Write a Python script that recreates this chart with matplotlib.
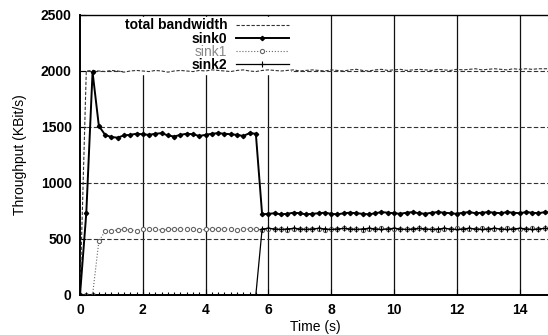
#!/usr/bin/env python3

import numpy as np
import matplotlib
import matplotlib.pyplot as plt

matplotlib.use("Agg")

plt.rcParams['font.family'] = ['Liberation Sans', 'DejaVu Sans']

# sample times (s), one sample every 0.2 s
time = np.round(np.arange(0, 15.01, 0.2), 1)

total_bw = [0, 2000, 2005, 2000, 1995, 2005, 2000, 1990, 2000, 2005,
            2000, 1995, 2005, 2000, 1990, 2000, 2005, 2000, 1995, 2005,
            2000, 2010, 2005, 2000, 1995, 2005, 2010, 2000, 1995, 2005,
            2010, 2005, 2000, 2005, 2010, 2000, 2005, 2010, 2005, 2000,
            2010, 2005, 2000, 2010, 2015, 2005, 2000, 2010, 2015, 2005,
            2010, 2015, 2005, 2010, 2015, 2010, 2005, 2015, 2010, 2005,
            2015, 2010, 2015, 2020, 2010, 2015, 2020, 2015, 2010, 2020,
            2015, 2020, 2015, 2020, 2020, 2020]

sink0 = [0, 730, 1990, 1510, 1430, 1410, 1405, 1425, 1430, 1440,
         1435, 1430, 1440, 1445, 1425, 1415, 1430, 1440, 1435, 1420,
         1430, 1440, 1445, 1440, 1435, 1430, 1420, 1445, 1440, 720,
         725, 730, 720, 725, 735, 730, 720, 725, 730, 735,
         725, 720, 730, 735, 730, 725, 720, 730, 740, 735,
         730, 725, 735, 740, 730, 725, 735, 740, 735, 730,
         725, 735, 740, 730, 735, 740, 735, 730, 740, 735,
         730, 740, 735, 730, 740, 735]

sink1 = [0, 0, 0, 480, 570, 575, 580, 585, 580, 575,
         585, 590, 585, 580, 585, 590, 585, 590, 585, 580,
         585, 590, 585, 590, 585, 580, 585, 590, 585, 580,
         585, 590, 585, 580, 585, 590, 585, 590, 585, 580,
         585, 590, 595, 590, 585, 580, 585, 590, 595, 590,
         585, 590, 585, 590, 595, 590, 585, 580, 585, 590,
         595, 590, 585, 590, 595, 590, 585, 590, 595, 590,
         585, 590, 595, 590, 595, 590]

sink2 = [0, 0, 0, 0, 0, 0, 0, 0, 0, 0,
         0, 0, 0, 0, 0, 0, 0, 0, 0, 0,
         0, 0, 0, 0, 0, 0, 0, 0, 0, 590,
         595, 590, 585, 590, 595, 590, 585, 590, 595, 590,
         585, 590, 595, 590, 585, 590, 595, 590, 585, 590,
         595, 590, 585, 590, 595, 590, 585, 590, 595, 590,
         585, 590, 595, 590, 585, 590, 595, 590, 585, 590,
         595, 590, 585, 590, 595, 590]

W, H = 548, 335
fig = plt.figure(figsize=(W / 100, H / 100), dpi=100)
ax = fig.add_axes([80 / W, 40 / H, 471 / W, 280 / H])

ax.plot(time, total_bw, color='#333333', lw=0.8, ls=(0, (3, 1.5)),
        label='total bandwidth', zorder=3)
ax.plot(time, sink0, color='black', lw=1.4, marker='D', ms=2.2,
        label='sink0', zorder=5)
ax.plot(time, sink1, color='#666666', lw=0.8, ls=':', marker='o', ms=3,
        mfc='white', mew=0.8, label='sink1', zorder=4)
ax.plot(time, sink2, color='black', lw=0.9, marker='+', ms=4, mew=0.8,
        label='sink2', zorder=4)

ax.set_xlim(0, 15)
ax.set_ylim(0, 2500)
ax.set_xticks(range(0, 15, 2))
ax.set_yticks(range(0, 2501, 500))

# vertical grid solid, horizontal grid dashed (gnuplot look)
for x in range(2, 15, 2):
    ax.axvline(x, color='#111111', lw=0.9, zorder=1)
for y in range(500, 2500, 500):
    ax.axhline(y, color='#333333', lw=0.8, ls=(0, (4, 2)), zorder=1)

ax.tick_params(direction='in', length=4, labelsize=10, pad=6)
for lab in ax.get_xticklabels() + ax.get_yticklabels():
    lab.set_fontweight('bold')
for s in ['left', 'bottom']:
    ax.spines[s].set_linewidth(1.4)
ax.spines['top'].set_linewidth(1.0)

ax.set_xlabel('Time (s)', fontsize=10, labelpad=2)
ax.set_ylabel('Throughput (KBit/s)', fontsize=10, labelpad=10)

leg = ax.legend(loc='upper right', bbox_to_anchor=(290 / W, 1 - 17 / H),
                bbox_transform=fig.transFigure, frameon=True, fancybox=False,
                edgecolor='white', facecolor='white', framealpha=1,
                markerfirst=False, alignment='right', fontsize=10,
                handlelength=3.8, handletextpad=0.6, labelspacing=-0.05,
                borderpad=0.1, borderaxespad=0)
for txt in leg.get_texts():
    txt.set_fontweight('bold')
leg.get_texts()[2].set_color('#888888')
leg.get_texts()[2].set_fontweight('normal')
# legend box covers the grid but stays under the curves
leg.set_zorder(2)

fig.savefig("out.png", dpi=100)
